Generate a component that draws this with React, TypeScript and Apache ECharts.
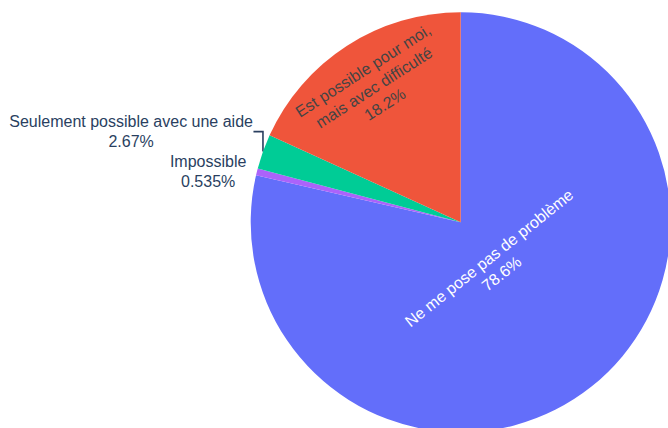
import React, { useEffect, useRef } from "react";
import * as echarts from "echarts";

const categories = [
  "Ne me pose pas de problème",
  "Impossible",
  "Seulement possible avec une aide",
  "Est possible pour moi,\nmais avec difficulté",
];
const values = [78.6, 0.535, 2.67, 18.2];
const valueLabels = ["78.6%", "0.535%", "2.67%", "18.2%"];
const colors = ["#636efa", "#ab63fa", "#00cc96", "#ef553b"];

// label placement style per slice
const placement = ["inside", "outside", "outside", "inside"];
const insideRadiusFactor = [0.265, 0, 0, 0.763];
const insideColors = ["#ffffff", "", "", "#444444"];

const CX = 460.7;
const CY = 222.3;
const R = 210;
const FONT = '"Liberation Sans", Arial, Helvetica, sans-serif';

export default function App() {
  const ref = useRef<HTMLDivElement>(null);
  useEffect(() => {
    if (!ref.current) return;
    const chart = echarts.init(ref.current, undefined, { renderer: "svg" });
    const total = values.reduce((a, b) => a + b, 0);
    const mids: number[] = [];
    let acc = 0;
    values.forEach((v) => {
      const a0 = (acc / total) * 360;
      acc += v;
      const a1 = (acc / total) * 360;
      mids.push((a0 + a1) / 2);
    });

    const data = values.map((v, i) => ({
      name: categories[i],
      value: v,
      itemStyle: { color: colors[i] },
      label: {
        show: true,
        position: placement[i] === "inside" ? "inside" : "outside",
        color: placement[i] === "inside" ? insideColors[i] : "#2a3f5f",
        formatter: () => `${categories[i]}\n${valueLabels[i]}`,
        fontFamily: FONT,
        fontSize: 16,
        lineHeight: 20,
        align: "center",
      },
      labelLine: {
        show: i === 2,
        length: 10,
        length2: 10,
        lineStyle: { color: "#2a3f5f", width: 1.6 },
      },
    }));

    chart.setOption({
      animation: false,
      series: [
        {
          type: "pie",
          center: [CX, CY],
          radius: R,
          startAngle: 90,
          clockwise: true,
          avoidLabelOverlap: false,
          emphasis: { disabled: true },
          data,
          labelLayout: (params: any) => {
            const i = params.dataIndex;
            const th = (mids[i] * Math.PI) / 180;
            const s = Math.sin(th);
            const c = Math.cos(th);
            if (placement[i] === "inside") {
              const r = R * insideRadiusFactor[i];
              let rot = (((-mids[i]) % 180) + 180) % 180;
              if (rot > 90) rot -= 180;
              return {
                x: CX + r * s,
                y: CY - r * c,
                align: "center",
                verticalAlign: "middle",
                rotate: rot,
              };
            }
            const ex = CX + R * s;
            const ey = CY - R * c;
            const w = params.labelRect.width;
            if (i === 2) {
              const midY = ey - 20;
              const right = ex - 10;
              return {
                x: right - w / 2,
                y: midY,
                align: "center",
                verticalAlign: "middle",
                labelLinePoints: [
                  [ex, ey],
                  [ex, midY],
                  [right + 0.5, midY],
                ],
              };
            }
            const right = ex - 10.5;
            return {
              x: right - w / 2,
              y: ey,
              align: "center",
              verticalAlign: "middle",
            };
          },
        },
      ],
    });
    return () => chart.dispose();
  }, []);
  return (
    <div
      ref={ref}
      style={{ position: "fixed", left: 0, top: 0, width: 668, height: 428, background: "#fff" }}
    />
  );
}
